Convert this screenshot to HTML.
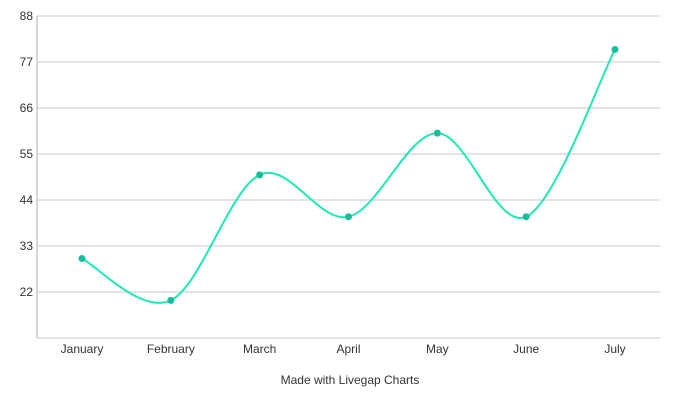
<!DOCTYPE html>
<html><head><meta charset="utf-8">
<style>
html,body{margin:0;padding:0;background:#fff;}
svg{display:block;font-family:"Liberation Sans",sans-serif;}
</style></head>
<body>
<svg id="chart" width="700" height="400">
<g id="grid"></g>
<g id="yticks"></g>
<g id="xticks"></g>
<path id="line" fill="none" stroke="#1de9b6" stroke-width="2"></path>
<g id="points"></g>
<text x="350" y="384" text-anchor="middle" font-size="12" fill="#333">Made with Livegap Charts</text>
</svg>
<script>
const categories = ["January","February","March","April","May","June","July"];
const values = [30,20,50,40,60,40,80];
const yTicks = [22,33,44,55,66,77,88];
const yMin = 11, yMax = 88;
const plotLeft = 37, plotRight = 660, plotTop = 16, plotBottom = 338;
const ns = "http://www.w3.org/2000/svg";
function ys(v){return plotBottom - (v - yMin) / (yMax - yMin) * (plotBottom - plotTop);}
function xs(i){return 82 + i * (615 - 82) / (categories.length - 1);}
function mk(tag, attrs, parent){const e=document.createElementNS(ns,tag);for(const k in attrs)e.setAttribute(k,attrs[k]);parent.appendChild(e);return e;}
const grid=document.getElementById('grid'), yt=document.getElementById('yticks'), xt=document.getElementById('xticks');
yTicks.forEach(tk=>{
  const l=mk('line',{x1:plotLeft,x2:plotRight,y1:ys(tk),y2:ys(tk),stroke:'#dcdcdc','stroke-width':1.5},grid);
  
  
  const tx=mk('text',{x:33,y:ys(tk)+4,'text-anchor':'end','font-size':12,fill:'#333'},yt);
  tx.textContent=tk;
  
  
});
const ax=mk('line',{x1:plotLeft,x2:plotLeft,y1:plotTop,y2:plotBottom,stroke:'#c8c8c8','stroke-width':1.5},yt);


const bx=mk('line',{x1:plotLeft,x2:plotRight,y1:plotBottom,y2:plotBottom,stroke:'#dcdcdc','stroke-width':1.5},xt);


categories.forEach((c,i)=>{
  const tx=mk('text',{x:xs(i),y:353,'text-anchor':'middle','font-size':12,fill:'#333'},xt);
  tx.textContent=c;
  
  
});
const pts=values.map((v,i)=>[xs(i),ys(v)]);
let d='M'+pts[0][0]+','+pts[0][1];
const tension=0.5;
for(let i=0;i<pts.length-1;i++){
  const p0=pts[i-1]||pts[i], p1=pts[i], p2=pts[i+1], p3=pts[i+2]||p2;
  const c1=[p1[0]+(p2[0]-p0[0])*tension/3, p1[1]+(p2[1]-p0[1])*tension/3];
  const c2=[p2[0]-(p3[0]-p1[0])*tension/3, p2[1]-(p3[1]-p1[1])*tension/3];
  d+=' C'+c1+' '+c2+' '+p2;
}
document.getElementById('line').setAttribute('d',d);
const pg=document.getElementById('points');
pts.forEach(p=>{
  const c=mk('circle',{cx:p[0],cy:p[1],r:3.5,fill:'#1abc9c'},pg);
  
  
});
</script>
</body></html>
